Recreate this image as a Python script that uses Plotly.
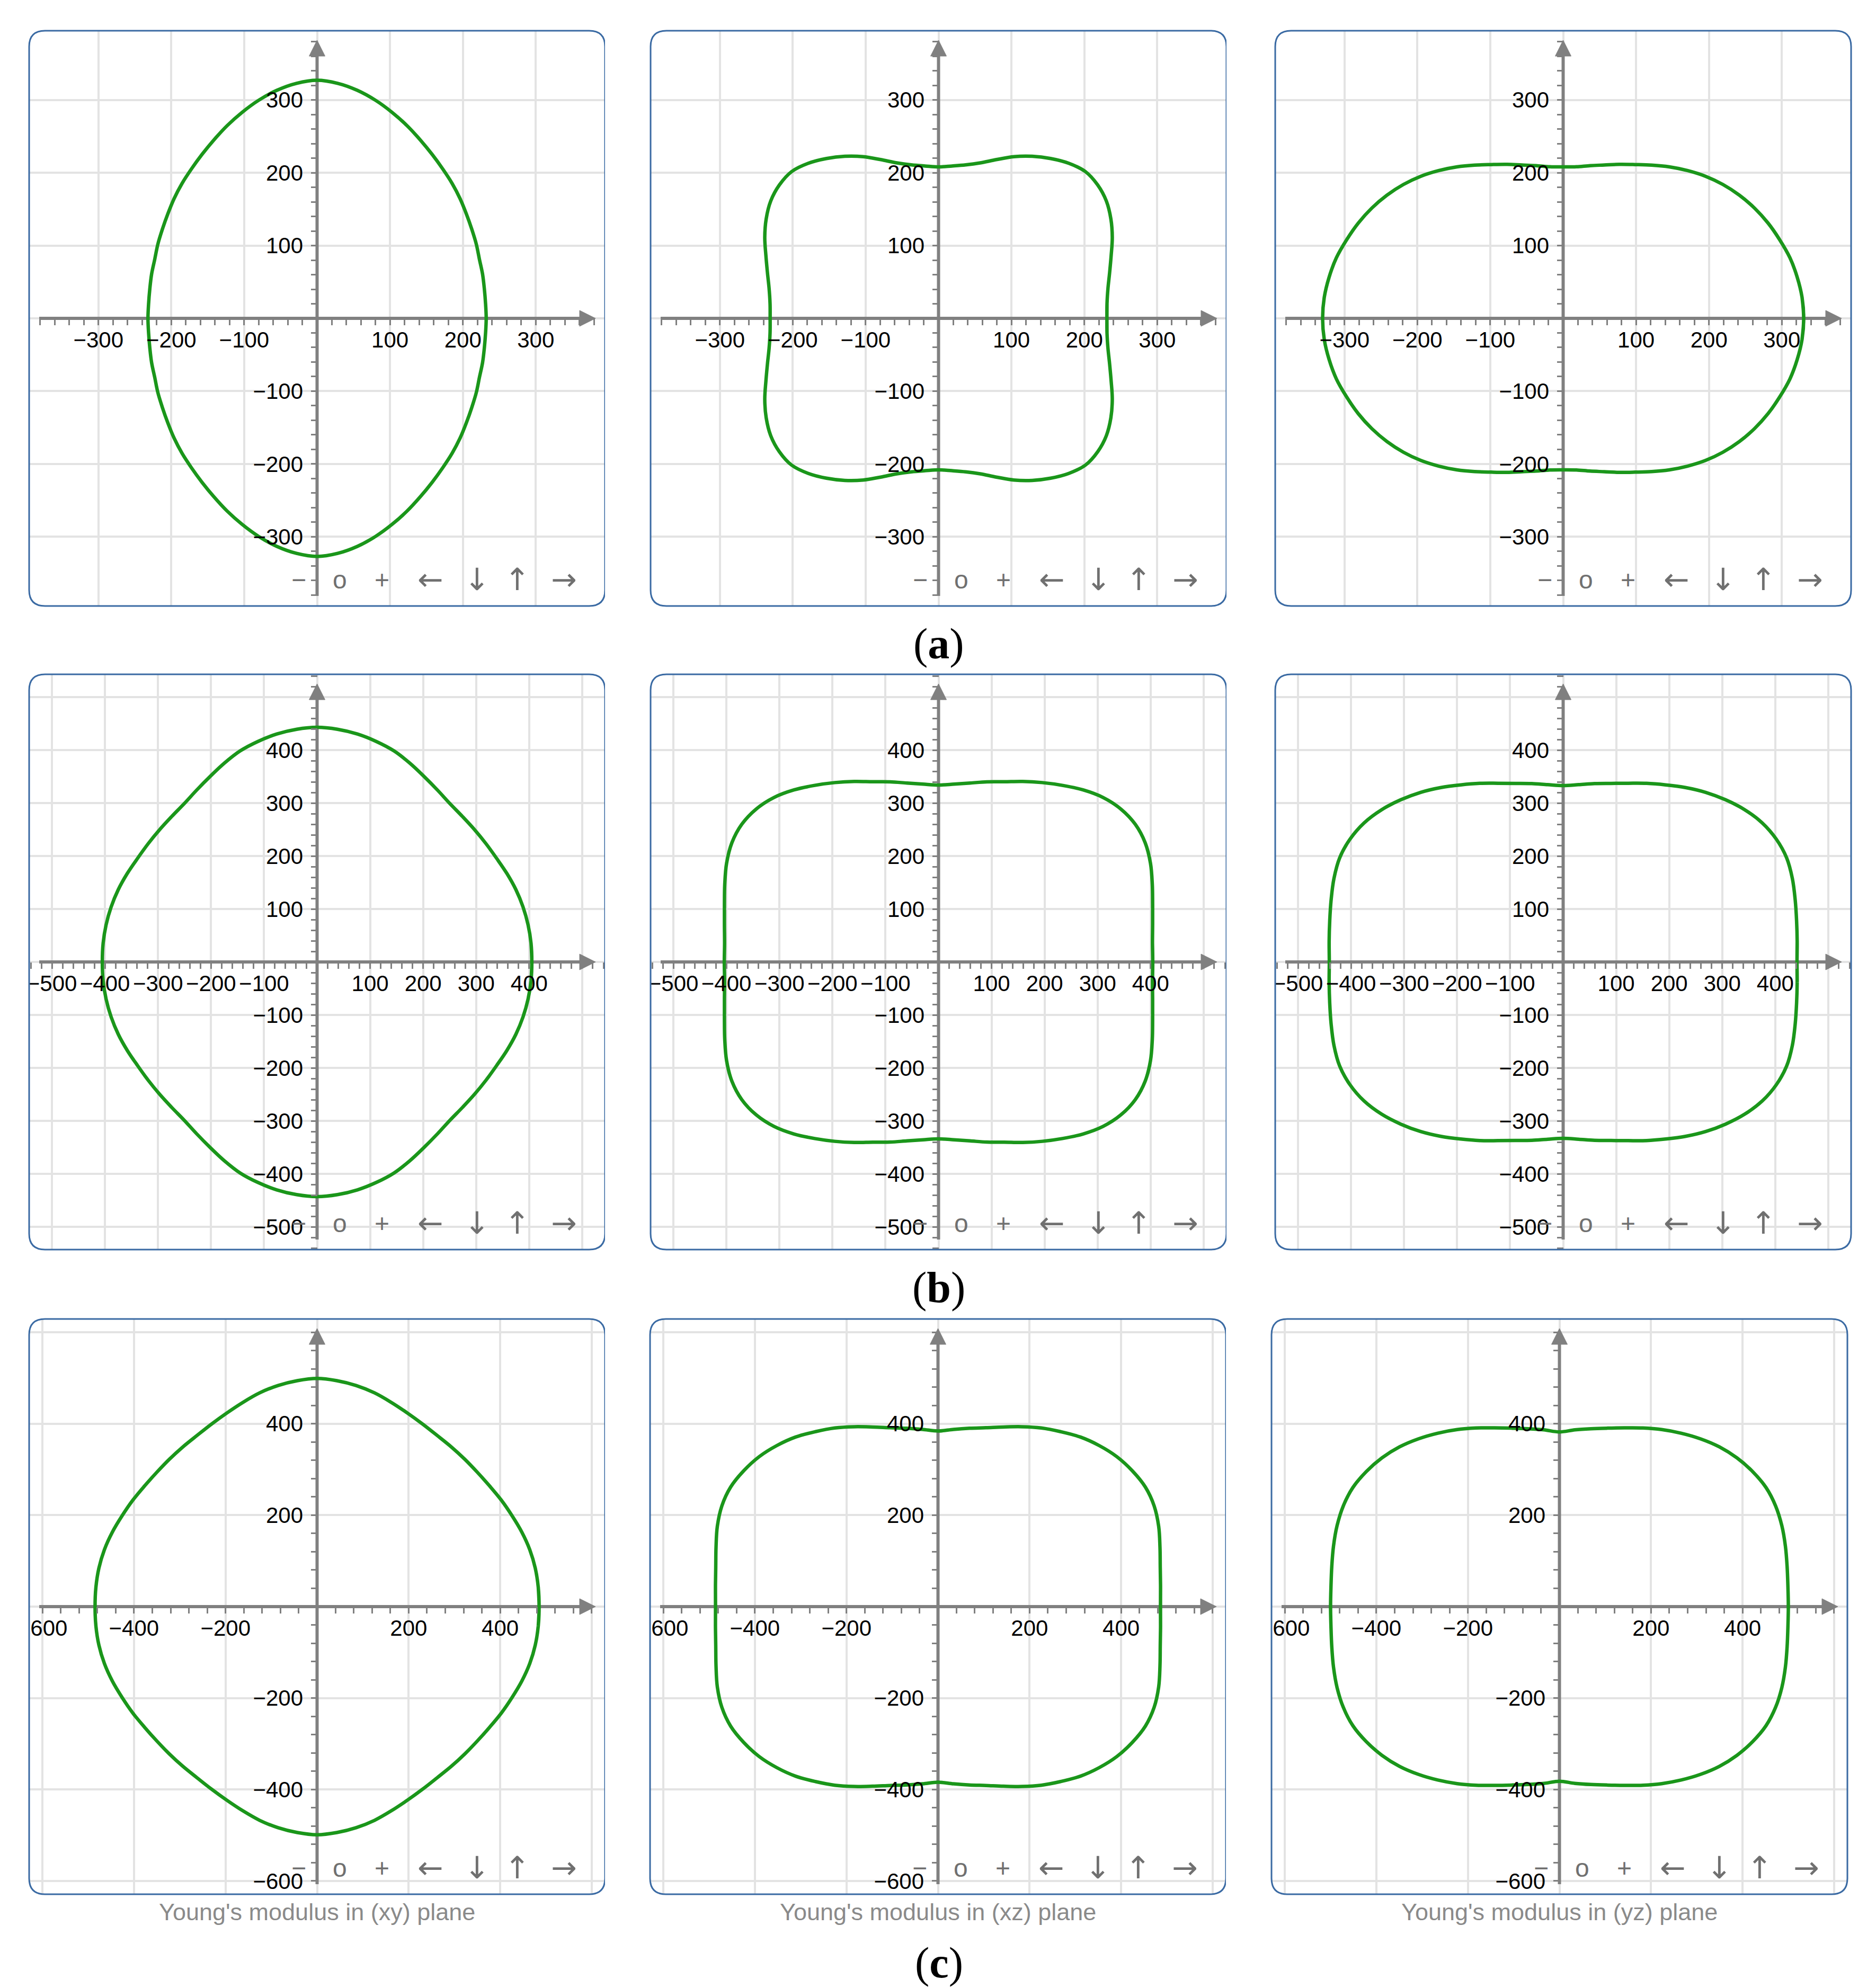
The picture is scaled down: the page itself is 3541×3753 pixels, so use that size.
import math
import plotly.graph_objects as go

FIG_W, FIG_H = 3541, 3753

# Young's modulus radius, first quadrant, every 5 degrees.
# The curves are mirror-symmetric about both axes.
angles = list(range(0, 91, 5))

r_a_xy = [232, 232, 233, 235, 237, 241, 245, 250, 256, 262, 268, 275, 283, 292, 301, 310, 318, 324, 327]
r_a_xz = [231, 232, 236, 243, 252, 263, 273, 281, 285, 285, 278, 268, 257, 245, 232, 221, 214, 210, 208]
r_a_yz = [330, 329, 326, 322, 316, 310, 303, 295, 286, 276, 265, 254, 243, 233, 225, 218, 213, 209, 208]

r_b_xy = [405, 405, 404, 402, 399, 395, 391, 389, 388, 388, 390, 396, 404, 414, 424, 431, 437, 441, 443]
r_b_xz = [404, 405, 410, 418, 429, 441, 450, 453, 449, 439, 424, 407, 391, 376, 362, 352, 343, 337, 334]
r_b_yz = [441, 443, 447, 453, 460, 465, 464, 458, 447, 433, 418, 402, 386, 372, 359, 349, 342, 336, 333]

r_c_xy = [485, 485, 484, 481, 476, 470, 465, 460, 457, 456, 456, 457, 461, 467, 475, 484, 491, 496, 499]
r_c_xz = [486, 488, 493, 502, 513, 521, 523, 518, 510, 498, 484, 467, 451, 434, 418, 405, 396, 389, 384]
r_c_yz = [500, 501, 505, 511, 517, 521, 521, 515, 506, 494, 479, 463, 447, 431, 416, 404, 395, 388, 382]

# axis ticks / labels per row
ticks_a = [-300, -200, -100, 0, 100, 200, 300]
labels_a = ["−300", "−200", "−100", "", "100", "200", "300"]
ticks_b = [-500, -400, -300, -200, -100, 0, 100, 200, 300, 400, 500]
labels_b = ["−500", "−400", "−300", "−200", "−100", "", "100", "200", "300", "400", ""]
ticks_c = [-600, -400, -200, 0, 200, 400, 600]
labels_c = ["−600", "−400", "−200", "", "200", "400", ""]

row_letters = ["a", "b", "c"]
plane_names = ["(xy)", "(xz)", "(yz)"]
toolbar_symbols = ["−", "o", "+", "←", "↓", "↑", "→"]

rows = [
    dict(curves=[r_a_xy, r_a_xz, r_a_yz], half=395, ticks=ticks_a, labels=labels_a, minor=20),
    dict(curves=[r_b_xy, r_b_xz, r_b_yz], half=543, ticks=ticks_b, labels=labels_b, minor=20),
    dict(curves=[r_c_xy, r_c_xz, r_c_yz], half=629, ticks=ticks_c, labels=labels_c, minor=40),
]

# panel geometry in pixels
ROW_TOP = [58, 1273, 2490]
COL_LEFT = [[55, 1228, 2407], [55, 1228, 2407], [55, 1227, 2400]]
PW, PH = 1087, 1086
CORNER = 30
TOOL_DX = [-35, 43, 122, 214, 302, 378, 466]

GREEN = "#1a961a"
AXIS = "#808080"
GRID = "#e3e3e3"
BORDER = "#3a6aa3"
FONT = "Liberation Sans, Arial, sans-serif"


def px(x):
    return x / FIG_W


def py(y):
    return 1 - y / FIG_H


def loop_xy(r_q):
    """Mirror the first-quadrant radii into a closed curve."""
    q1 = list(zip(angles, r_q))
    pts = q1[:]
    pts += [(180 - a, r) for a, r in reversed(q1[:-1])]
    pts += [(180 + a, r) for a, r in q1[1:]]
    pts += [(360 - a, r) for a, r in reversed(q1[:-1])]
    pts = [pts[-2]] + pts + [pts[1]]  # overlap so the spline closes smoothly
    xs = [r * math.cos(math.radians(a)) for a, r in pts]
    ys = [r * math.sin(math.radians(a)) for a, r in pts]
    return xs, ys


fig = go.Figure()
layout = {}
shapes = []
annotations = []

for i, row in enumerate(rows):
    R = row["half"]
    s = PW / (2 * R)  # pixels per unit
    for j, r_q in enumerate(row["curves"]):
        k = i * 3 + j + 1
        xn = "x" if k == 1 else f"x{k}"
        yn = "y" if k == 1 else f"y{k}"
        x0, y0 = COL_LEFT[i][j], ROW_TOP[i]
        x1, y1 = x0 + PW, y0 + PH
        dom_x = [px(x0), px(x1)]
        dom_y = [py(y1), py(y0)]

        common = dict(
            range=[-R, R],
            tickmode="array",
            tickvals=row["ticks"],
            ticktext=row["labels"],
            showgrid=True,
            gridcolor=GRID,
            gridwidth=4,
            zeroline=False,
            showline=False,
            ticks="outside",
            ticklen=12,
            tickwidth=3,
            tickcolor=AXIS,
            minor=dict(dtick=row["minor"], tick0=0, ticks="outside", ticklen=12,
                       tickwidth=3, tickcolor=AXIS, showgrid=False),
            tickfont=dict(family=FONT, size=42, color="black"),
            fixedrange=True,
            automargin=False,
            anchor="free",
        )
        layout["xaxis" if k == 1 else f"xaxis{k}"] = dict(
            common, domain=dom_x, position=(dom_y[0] + dom_y[1]) / 2,
            ticklabelstandoff=-8)
        layout["yaxis" if k == 1 else f"yaxis{k}"] = dict(
            common, domain=dom_y, position=(dom_x[0] + dom_x[1]) / 2,
            ticklabelstandoff=6)

        # axes through the origin, with arrow heads
        ax_kw = dict(xaxis=xn, yaxis=yn, hoverinfo="skip", showlegend=False)
        fig.add_trace(go.Scatter(x=[-R + 19 / s, R - 44 / s], y=[0, 0], mode="lines",
                                 line=dict(color=AXIS, width=6), **ax_kw))
        fig.add_trace(go.Scatter(x=[0, 0], y=[-R + 19 / s, R - 44 / s], mode="lines",
                                 line=dict(color=AXIS, width=6), **ax_kw))
        tip, base, hw = R - 18 / s, R - 48 / s, 15 / s
        fig.add_trace(go.Scatter(x=[tip, base, base, tip], y=[0, hw, -hw, 0], mode="lines",
                                 fill="toself", fillcolor=AXIS, line=dict(color=AXIS, width=1),
                                 **ax_kw))
        fig.add_trace(go.Scatter(x=[0, hw, -hw, 0], y=[tip, base, base, tip], mode="lines",
                                 fill="toself", fillcolor=AXIS, line=dict(color=AXIS, width=1),
                                 **ax_kw))

        xs, ys = loop_xy(r_q)
        fig.add_trace(go.Scatter(
            x=xs, y=ys, mode="lines",
            line=dict(color=GREEN, width=6.5, shape="spline", smoothing=1.0), **ax_kw))

        # white masks: gap to the left of the panel and the rounded corners
        left_edge = 0 if j == 0 else COL_LEFT[i][j - 1] + PW
        shapes.append(dict(type="rect", xref="paper", yref="paper", layer="above",
                           x0=px(left_edge), x1=px(x0 - 1), y0=py(y1 + 6), y1=py(y0 - 6),
                           fillcolor="white", line=dict(width=0)))
        rx, ry = CORNER / FIG_W, CORNER / FIG_H
        L, Rr, B, T = dom_x[0], dom_x[1], dom_y[0], dom_y[1]
        for cx, cy, sx, sy in [(L, T, 1, -1), (Rr, T, -1, -1), (Rr, B, -1, 1), (L, B, 1, 1)]:
            shapes.append(dict(
                type="path", xref="paper", yref="paper", layer="above",
                path=f"M {cx},{cy} L {cx + sx * rx},{cy} Q {cx},{cy} {cx},{cy + sy * ry} Z",
                fillcolor="white", line=dict(width=0)))
        border = (f"M {L + rx},{T} L {Rr - rx},{T} Q {Rr},{T} {Rr},{T - ry} "
                  f"L {Rr},{B + ry} Q {Rr},{B} {Rr - rx},{B} "
                  f"L {L + rx},{B} Q {L},{B} {L},{B + ry} "
                  f"L {L},{T - ry} Q {L},{T} {L + rx},{T} Z")
        shapes.append(dict(type="path", xref="paper", yref="paper", layer="above",
                           path=border, line=dict(color=BORDER, width=3)))

        # navigation toolbar glyphs
        cxp = x0 + PW / 2
        for sym, dx in zip(toolbar_symbols, TOOL_DX):
            is_arrow = sym in "←↓↑→"
            annotations.append(dict(
                x=px(cxp + dx), y=py(y1 - 50), xref="paper", yref="paper",
                text=sym, showarrow=False, xanchor="center", yanchor="middle",
                font=dict(family="DejaVu Sans" if is_arrow else FONT,
                          size=58 if is_arrow else 48, color="#707070")))

        if i == 2:
            annotations.append(dict(
                x=px(cxp), y=py(y1 + 33), xref="paper", yref="paper",
                text=f"Young's modulus in {plane_names[j]} plane", showarrow=False,
                xanchor="center", yanchor="middle",
                font=dict(family=FONT, size=45, color="#8a8a8a")))

# sub-figure captions
for letter, yc in zip(row_letters, [1215, 2430, 3705]):
    annotations.append(dict(
        x=px(1772), y=py(yc), xref="paper", yref="paper",
        text=f"(<b>{letter}</b>)", showarrow=False, xanchor="center", yanchor="middle",
        font=dict(family="Liberation Serif, Times New Roman, serif", size=82, color="black")))

fig.update_layout(
    **layout,
    shapes=shapes,
    annotations=annotations,
    width=FIG_W,
    height=FIG_H,
    margin=dict(l=0, r=0, t=0, b=0, pad=0, autoexpand=False),
    paper_bgcolor="white",
    plot_bgcolor="white",
    showlegend=False,
)

fig.write_html("out.html", config={"displayModeBar": False},
               post_script="document.body.style.margin='0';document.body.style.overflow='hidden';")
